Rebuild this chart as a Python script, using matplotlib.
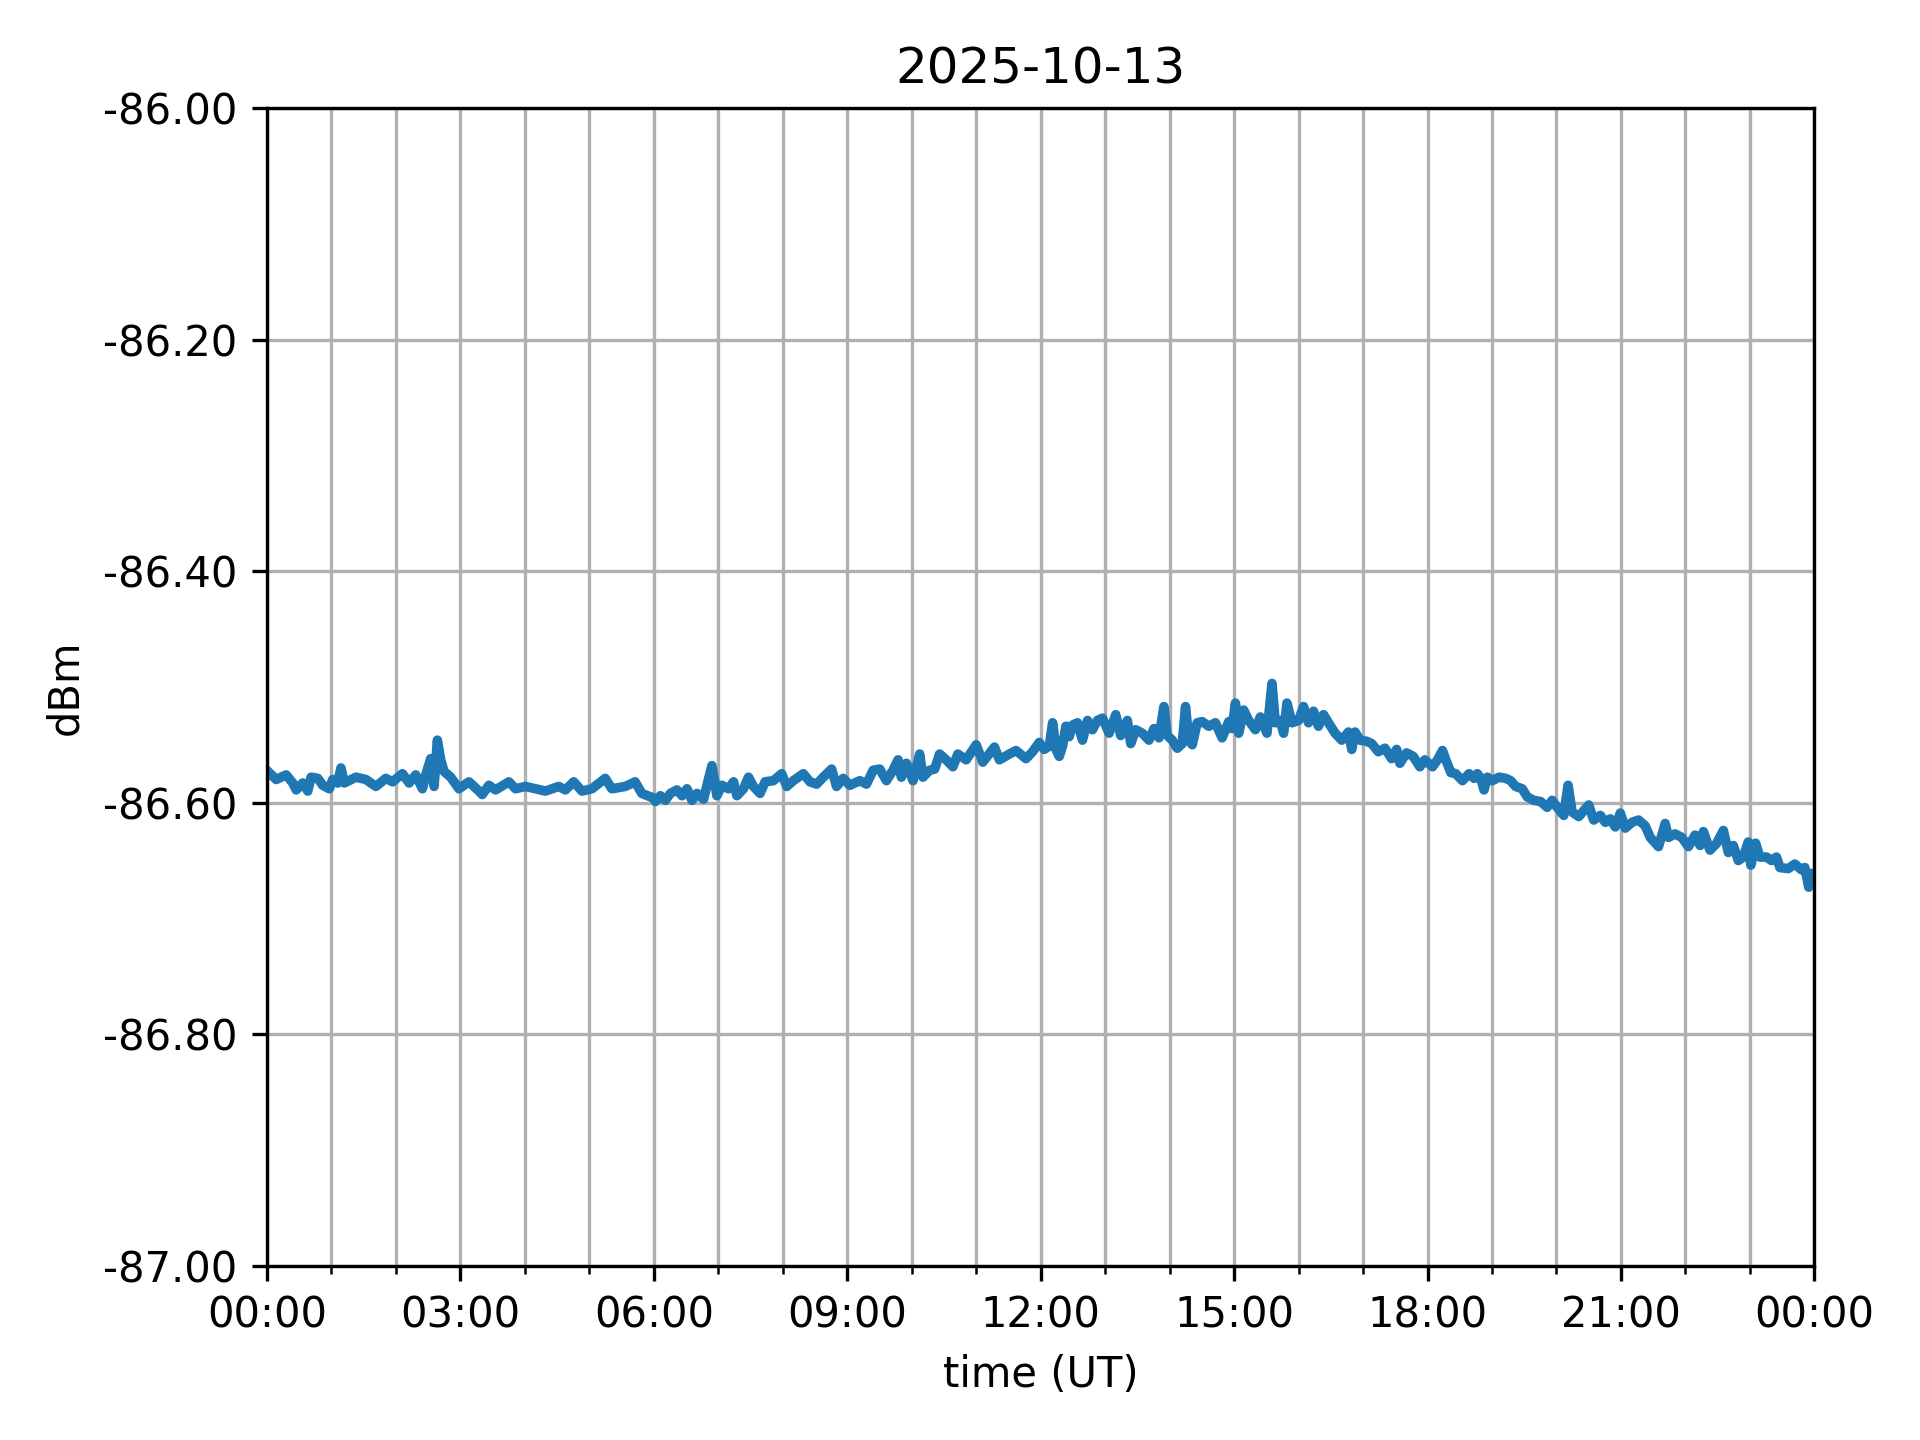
import datetime as dt
import matplotlib
matplotlib.use("Agg")
import matplotlib.pyplot as plt
import matplotlib.dates as mdates
from matplotlib.ticker import FormatStrFormatter

title = "2025-10-13"
hours = [
    0.015, 0.144, 0.299, 0.402, 0.454, 0.557, 0.634, 0.686, 0.789, 0.866, 0.969,
    1.021, 1.098, 1.149, 1.201, 1.381, 1.536, 1.691, 1.845, 1.948,
    2.103, 2.206, 2.309, 2.412, 2.464, 2.541, 2.593, 2.644, 2.696, 2.747, 2.851, 2.979,
    3.134, 3.289, 3.340, 3.443, 3.546, 3.753, 3.856,
    4.010, 4.165, 4.320, 4.423, 4.526, 4.629, 4.758, 4.887,
    5.041, 5.247, 5.351, 5.557, 5.711, 5.814, 5.995,
    6.026, 6.103, 6.180, 6.258, 6.361, 6.438, 6.515, 6.593, 6.670, 6.773, 6.825, 6.902, 6.979,
    7.057, 7.160, 7.237, 7.289, 7.392, 7.469, 7.546, 7.649, 7.727, 7.856, 7.985,
    8.062, 8.165, 8.320, 8.423, 8.526, 8.629, 8.758, 8.835, 8.938,
    9.041, 9.196, 9.299, 9.402, 9.505, 9.608, 9.711, 9.789, 9.840, 9.918,
    10.021, 10.124, 10.175, 10.278, 10.356, 10.433, 10.536, 10.639, 10.716, 10.845,
    11.000, 11.103, 11.284, 11.361, 11.515, 11.619, 11.773, 11.876, 11.979,
    12.057, 12.134, 12.186, 12.237, 12.289, 12.340, 12.392, 12.443, 12.495, 12.572,
    12.649, 12.727, 12.804, 12.881, 12.959,
    13.062, 13.165, 13.242, 13.345, 13.397, 13.474, 13.577, 13.680, 13.758, 13.835, 13.912, 13.964,
    14.041, 14.119, 14.196, 14.247, 14.299, 14.351, 14.428, 14.505, 14.608, 14.711, 14.814, 14.918, 14.969,
    15.021, 15.072, 15.149, 15.227, 15.330, 15.407, 15.510, 15.588, 15.639, 15.716, 15.768, 15.820, 15.897,
    16.000, 16.077, 16.155, 16.232, 16.309, 16.387, 16.464, 16.567, 16.670, 16.773, 16.825, 16.876, 16.954,
    17.057, 17.134, 17.237, 17.340, 17.443, 17.521, 17.572, 17.675, 17.778, 17.881, 17.959,
    18.077, 18.155, 18.232, 18.284, 18.361, 18.438, 18.541, 18.644, 18.722, 18.773, 18.825, 18.876, 18.928,
    19.005, 19.108, 19.211, 19.289, 19.366, 19.469, 19.546, 19.649, 19.753, 19.856, 19.933,
    20.010, 20.113, 20.180, 20.242, 20.345, 20.423, 20.500, 20.577, 20.680, 20.758, 20.835, 20.912, 20.990,
    21.067, 21.170, 21.273, 21.376, 21.454, 21.582, 21.686, 21.737, 21.840, 21.943,
    22.046, 22.149, 22.227, 22.278, 22.381, 22.485, 22.588, 22.665, 22.742, 22.820, 22.897, 22.974,
    23.015, 23.088, 23.155, 23.258, 23.335, 23.412, 23.464, 23.593, 23.696, 23.799, 23.851, 23.912, 23.954, 23.995,
]
dbm = [
    -86.573, -86.580, -86.576, -86.583, -86.589, -86.583, -86.590, -86.578, -86.579, -86.585, -86.588,
    -86.580, -86.583, -86.570, -86.583, -86.578, -86.580, -86.586, -86.579, -86.582,
    -86.575, -86.583, -86.576, -86.588, -86.576, -86.562, -86.586, -86.546, -86.563, -86.573, -86.578, -86.588,
    -86.582, -86.590, -86.593, -86.585, -86.589, -86.582, -86.588,
    -86.586, -86.588, -86.590, -86.588, -86.586, -86.589, -86.582, -86.590,
    -86.588, -86.579, -86.588, -86.586, -86.582, -86.592, -86.596,
    -86.599, -86.594, -86.598, -86.592, -86.589, -86.594, -86.588, -86.598, -86.592, -86.597, -86.585, -86.568, -86.594,
    -86.585, -86.588, -86.582, -86.594, -86.588, -86.578, -86.586, -86.592, -86.582, -86.581, -86.575,
    -86.586, -86.581, -86.575, -86.582, -86.584, -86.578, -86.571, -86.586, -86.579,
    -86.585, -86.581, -86.584, -86.572, -86.571, -86.581, -86.572, -86.563, -86.578, -86.566,
    -86.581, -86.558, -86.578, -86.572, -86.571, -86.558, -86.563, -86.569, -86.558, -86.563,
    -86.550, -86.565, -86.552, -86.563, -86.558, -86.555, -86.562, -86.556, -86.548,
    -86.554, -86.551, -86.531, -86.554, -86.560, -86.551, -86.534, -86.543, -86.533, -86.531,
    -86.546, -86.529, -86.537, -86.529, -86.527,
    -86.540, -86.524, -86.542, -86.529, -86.549, -86.537, -86.540, -86.546, -86.536, -86.544, -86.517, -86.542,
    -86.546, -86.553, -86.549, -86.517, -86.546, -86.550, -86.531, -86.530, -86.534, -86.531, -86.544, -86.530, -86.536,
    -86.514, -86.540, -86.520, -86.529, -86.537, -86.526, -86.540, -86.497, -86.531, -86.529, -86.540, -86.514, -86.531,
    -86.529, -86.517, -86.531, -86.521, -86.534, -86.524, -86.531, -86.540, -86.546, -86.539, -86.554, -86.539, -86.546,
    -86.547, -86.549, -86.556, -86.553, -86.562, -86.554, -86.566, -86.557, -86.560, -86.569, -86.563,
    -86.569, -86.563, -86.555, -86.563, -86.574, -86.575, -86.581, -86.575, -86.579, -86.575, -86.579, -86.589, -86.578,
    -86.581, -86.578, -86.579, -86.581, -86.586, -86.588, -86.595, -86.598, -86.599, -86.604, -86.598,
    -86.604, -86.611, -86.585, -86.608, -86.612, -86.607, -86.602, -86.615, -86.611, -86.617, -86.614, -86.621, -86.609,
    -86.622, -86.617, -86.615, -86.620, -86.630, -86.638, -86.618, -86.630, -86.627, -86.630,
    -86.638, -86.628, -86.637, -86.625, -86.641, -86.635, -86.624, -86.643, -86.637, -86.650, -86.647, -86.634,
    -86.654, -86.635, -86.647, -86.647, -86.650, -86.647, -86.656, -86.657, -86.653, -86.658, -86.656, -86.673, -86.661, -86.670,
]
y_ticks = [-87.0, -86.8, -86.6, -86.4, -86.2, -86.0]

day0 = dt.datetime(2025, 10, 13)
times = [day0 + dt.timedelta(hours=h) for h in hours]

fig = plt.figure(figsize=(6.4, 4.8), dpi=300)
ax = fig.add_axes([0.139, 0.121, 0.806, 0.804])
ax.plot(times, dbm, color="#1f77b4", linewidth=2.3)

ax.set_xlim(day0, day0 + dt.timedelta(days=1))
ax.set_ylim(-87.0, -86.0)
ax.set_yticks(y_ticks)
ax.yaxis.set_major_formatter(FormatStrFormatter("%.2f"))
ax.xaxis.set_major_locator(mdates.HourLocator(byhour=range(0, 24, 3)))
ax.xaxis.set_minor_locator(mdates.HourLocator())
ax.xaxis.set_major_formatter(mdates.DateFormatter("%H:%M"))
ax.grid(True, which="both", color="#b0b0b0", linewidth=0.8)
ax.set_axisbelow(True)
ax.set_title(title)
ax.set_xlabel("time (UT)")
ax.set_ylabel("dBm")

fig.savefig("out.png", dpi=300)
